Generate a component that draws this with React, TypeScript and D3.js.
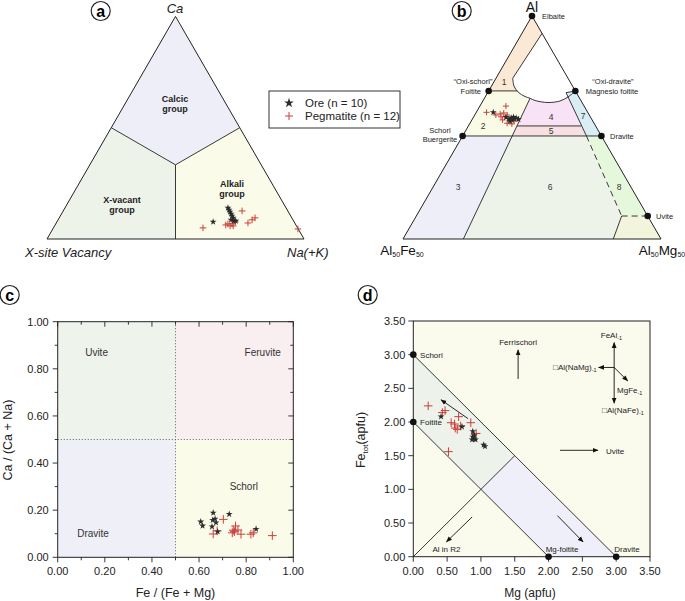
import React from 'react';
import * as d3 from 'd3';

// ---------- Panel a: X-site ternary, points as [Ca, Na(+K)] fractions ----------
const oreA = [[0.077,0.608],[0.14,0.634],[0.131,0.643],[0.122,0.651],[0.113,0.66],[0.104,0.668],[0.095,0.677],[0.086,0.673],[0.081,0.687],[0.081,0.694]];
const pegA = [[0.05,0.582],[0.126,0.696],[0.068,0.67],[0.059,0.683],[0.068,0.686],[0.077,0.694],[0.059,0.695],[0.072,0.746],[0.086,0.755],[0.095,0.762],[0.045,0.954],[0.063,0.664]];
const fieldCalcic = [[1,0],[0.5,0.5],[1/3,1/3],[0.5,0]];
const fieldVacant = [[0,0],[0.5,0],[1/3,1/3],[0,0.5]];
const fieldAlkali = [[0,1],[0,0.5],[1/3,1/3],[0.5,0.5]];

// ---------- Panel b: Al-Fe-Mg ternary, points as [Al, Mg] fractions ----------
const oreB = [[0.568,0.066],[0.546,0.126],[0.546,0.155],[0.538,0.162],[0.537,0.179],[0.543,0.148],[0.534,0.155],[0.529,0.15],[0.543,0.167],[0.538,0.142]];
const pegB = [[0.568,0.04],[0.596,0.101],[0.561,0.096],[0.548,0.106],[0.534,0.119],[0.519,0.144],[0.529,0.152],[0.556,0.126],[0.53,0.166],[0.556,0.082],[0.565,0.108],[0.516,0.164]];
const arcB = [[0.7206,0.0649],[0.6861,0.0872],[0.6592,0.1161],[0.639,0.1534],[0.631,0.177],[0.6211,0.2011],[0.6121,0.256],[0.6188,0.2991],[0.637,0.321],[0.6614,0.336]];
const field1 = [[1,0],[0.922,0.078],[0.7206,0.0649],[0.6861,0.0872],[0.664,0.111],[0.664,0]];
const field2 = [[0.664,0],[0.664,0.111],[0.6592,0.1161],[0.639,0.1534],[0.631,0.177],[0.462,0.192],[0.462,0]];
const field3 = [[0.462,0],[0.462,0.192],[0,0.234],[0,0]];
const field4 = [[0.631,0.177],[0.6211,0.2011],[0.6121,0.256],[0.6188,0.2991],[0.637,0.321],[0.507,0.437],[0.507,0.188]];
const field5 = [[0.507,0.188],[0.507,0.437],[0.462,0.48],[0.462,0.192]];
const field6 = [[0.462,0.192],[0.462,0.48],[0.103,0.796],[0,0.815],[0,0.234]];
const field7 = [[0.656,0.304],[0.664,0.336],[0.462,0.538],[0.462,0.48]];
const field8 = [[0.462,0.48],[0.462,0.538],[0.103,0.897],[0.103,0.796]];
const field9 = [[0.103,0.796],[0.103,0.897],[0,1],[0,0.815]];
const endMembersB = [[1,0],[0.664,0],[0.664,0.336],[0.462,0],[0.462,0.538],[0.103,0.897]];

// ---------- Panel c: Fe/(Fe+Mg) vs Ca/(Ca+Na) ----------
const oreC = [[0.607,0.151],[0.615,0.134],[0.66,0.189],[0.658,0.158],[0.668,0.163],[0.672,0.147],[0.655,0.13],[0.679,0.109],[0.728,0.183],[0.842,0.12]];
const pegC = [[0.703,0.161],[0.755,0.133],[0.75,0.109],[0.741,0.104],[0.778,0.098],[0.82,0.098],[0.83,0.104],[0.911,0.092],[0.66,0.099],[0.677,0.112],[0.765,0.116],[0.745,0.115]];
const ticksC = [0,0.2,0.4,0.6,0.8,1.0];

// ---------- Panel d: Mg vs Fe(tot) apfu ----------
const oreD = [[0.41,2.08],[0.72,1.93],[0.88,1.86],[0.88,1.78],[0.9,1.75],[0.87,1.74],[0.92,1.74],[0.9,1.8],[1.04,1.66],[1.06,1.64]];
const pegD = [[0.22,2.24],[0.43,2.14],[0.47,2.17],[0.67,2.08],[0.56,1.99],[0.61,1.97],[0.65,1.89],[0.7,1.94],[0.85,1.99],[0.93,1.83],[0.52,1.56],[0.62,1.91]];
const ticksD = [0,0.5,1,1.5,2,2.5,3,3.5];
const endMembersD = [[0,3],[0,2],[2,0],[3,0]];
const arrowsD = [[1.55,2.64,1.55,3.07],[2.97,2.81,2.97,3.18],[2.97,2.81,2.97,2.28],[2.97,2.81,2.74,2.81],[2.97,2.81,3.17,2.61],[2.17,1.58,2.73,1.58],[0.81,2.05,0.41,2.33],[0.87,0.59,0.49,0.22],[2.13,0.61,2.51,0.22]];

const FONT = "'Liberation Sans', Arial, Helvetica, sans-serif";
const RED = '#c9403a';
const STAR = '#2b2b2b';

const makeTern = (x0: number, W: number, yb: number, H: number) => {
  const xs = d3.scaleLinear().domain([0, 1]).range([x0, x0 + W]);
  const ys = d3.scaleLinear().domain([0, 1]).range([yb, yb - H]);
  return (a: number, b: number): [number, number] => [xs(b + a / 2), ys(a)];
};
const tA = makeTern(47, 257, 239, 222.6);
const tB = makeTern(403, 258, 239, 223);

const starPath = d3.symbol().type(d3.symbolStar).size(15)()!;
const Star = ({ x, y }: { x: number; y: number }) => <path d={starPath} transform={`translate(${x},${y})`} fill={STAR} />;
const Plus = ({ x, y, s = 3.6 }: { x: number; y: number; s?: number }) => (
  <g stroke={RED} strokeWidth={1}>
    <line x1={x - s} x2={x + s} y1={y} y2={y} />
    <line x1={x} x2={x} y1={y - s} y2={y + s} />
  </g>
);
const Circled = ({ x, y, t }: { x: number; y: number; t: string }) => (
  <g>
    <circle cx={x} cy={y} r={9.5} fill="white" stroke="#222" strokeWidth={1.2} />
    <text x={x} y={y + 5.5} textAnchor="middle" fontSize={16} fontWeight="bold" fontFamily={FONT}>{t}</text>
  </g>
);

const polyStr = (pts: number[][], f: (a: number, b: number) => [number, number]) =>
  pts.map(p => f(p[0], p[1]).join(',')).join(' ');

export default function App() {
  // panel a
  const triA = polyStr([[0,0],[0,1],[1,0]], tA);
  const cen = tA(1/3, 1/3);
  // panel b
  const triB = polyStr([[0,0],[0,1],[1,0]], tB);
  const arcLine = d3.line().curve(d3.curveCatmullRom)(arcB.map(p => tB(p[0], p[1])))!;
  const segB = (p: number[], q: number[], dash?: string) => {
    const a = tB(p[0], p[1]); const b = tB(q[0], q[1]);
    return <line x1={a[0]} y1={a[1]} x2={b[0]} y2={b[1]} stroke="#222" strokeWidth={0.9} strokeDasharray={dash} />;
  };
  // panel c
  const xc = d3.scaleLinear().domain([0, 1]).range([57.7, 293.3]);
  const yc = d3.scaleLinear().domain([0, 1]).range([557.3, 321.7]);
  const minorC = d3.range(0, 1.0001, 0.1);
  // panel d
  const xd = d3.scaleLinear().domain([0, 3.5]).range([413.3, 650]);
  const yd = d3.scaleLinear().domain([0, 3.5]).range([556.7, 321]);
  const pd = (pts: number[][]) => pts.map(p => `${xd(p[0])},${yd(p[1])}`).join(' ');

  const small = { fontFamily: FONT, fontSize: 7.5, fill: '#222' } as const;

  return (
    <svg width={685} height={601} style={{ position: 'absolute', left: 0, top: 0, background: 'white' }} fontFamily={FONT}>
      <defs>
        <marker id="ah" viewBox="0 0 10 10" refX="9" refY="5" markerWidth="6" markerHeight="6" orient="auto-start-reverse" markerUnits="userSpaceOnUse">
          <path d="M0,1 L10,5 L0,9 z" fill="#111" />
        </marker>
      </defs>

      {/* ================= Panel a ================= */}
      <polygon points={polyStr(fieldCalcic, tA)} fill="#eeeef8" />
      <polygon points={polyStr(fieldVacant, tA)} fill="#eef3ea" />
      <polygon points={polyStr(fieldAlkali, tA)} fill="#fafbe8" />
      {[[0.5,0],[0.5,0.5],[0,0.5]].map((p, i) => {
        const q = tA(p[0], p[1]);
        return <line key={i} x1={cen[0]} y1={cen[1]} x2={q[0]} y2={q[1]} stroke="#222" strokeWidth={0.9} />;
      })}
      <polygon points={triA} fill="none" stroke="#222" strokeWidth={1} />
      <g fontSize={9} fontWeight="bold" textAnchor="middle" fill="#222">
        <text x={175} y={102}>Calcic</text><text x={175} y={112}>group</text>
        <text x={122} y={203}>X-vacant</text><text x={122} y={213}>group</text>
        <text x={232} y={187}>Alkali</text><text x={232} y={197}>group</text>
      </g>
      <g fontSize={13} fontStyle="italic" fill="#222">
        <text x={175} y={13} textAnchor="middle">Ca</text>
        <text x={25} y={257}>X-site Vacancy</text>
        <text x={287} y={257}>Na(+K)</text>
      </g>
      {pegA.map((p, i) => { const q = tA(p[0], p[1]); return <Plus key={i} x={q[0]} y={q[1]} s={3.3} />; })}
      {oreA.map((p, i) => { const q = tA(p[0], p[1]); return <Star key={i} x={q[0]} y={q[1]} />; })}
      <Circled x={100.7} y={11} t="a" />

      {/* legend */}
      <rect x={269} y={91} width={131} height={37} fill="white" stroke="#333" strokeWidth={1} />
      <path d={d3.symbol().type(d3.symbolStar).size(30)()!} transform="translate(289,103)" fill={STAR} />
      <Plus x={289} y={116} s={4} />
      <g fontSize={11.5} fill="#222">
        <text x={305} y={107}>Ore (n = 10)</text>
        <text x={305} y={120}>Pegmatite (n = 12)</text>
      </g>

      {/* ================= Panel b ================= */}
      <polygon points={polyStr(field1, tB)} fill="#fbe8d5" />
      <polygon points={polyStr(field2, tB)} fill="#fafbe6" />
      <polygon points={polyStr(field3, tB)} fill="#eeeef8" />
      <polygon points={polyStr(field4, tB)} fill="#f8e2f6" />
      <polygon points={polyStr(field5, tB)} fill="#f6e0e2" />
      <polygon points={polyStr(field6, tB)} fill="#eef3ea" />
      <polygon points={polyStr(field7, tB)} fill="#d9edf4" />
      <polygon points={polyStr(field8, tB)} fill="#e6f8dc" />
      <polygon points={polyStr(field9, tB)} fill="#f2f4dc" />
      <path d={arcLine} fill="none" stroke="#222" strokeWidth={0.9} />
      {segB([0.922,0.078],[0.7206,0.0649])}
      {segB([0.664,0],[0.664,0.111])}
      {segB([0.631,0.177],[0,0.234])}
      {segB([0.507,0.188],[0.507,0.437])}
      {segB([0.462,0],[0.462,0.538])}
      {segB([0.656,0.304],[0.462,0.48])}
      {segB([0.656,0.304],[0.664,0.336])}
      {segB([0.462,0.48],[0.103,0.796],'6,4')}
      {segB([0.103,0.796],[0.103,0.897],'6,4')}
      {segB([0.103,0.796],[0,0.815])}
      <polygon points={triB} fill="none" stroke="#222" strokeWidth={1} />
      {endMembersB.map((p, i) => { const q = tB(p[0], p[1]); return <circle key={i} cx={q[0]} cy={q[1]} r={3.3} fill="#111" />; })}
      <g {...small}>
        <text x={542} y={19}>Elbaite</text>
        <text x={473} y={84} textAnchor="middle">“Oxi-schorl”</text>
        <text x={481} y={94} textAnchor="end">Foitite</text>
        <text x={613} y={84} textAnchor="middle">“Oxi-dravite”</text>
        <text x={612} y={94} textAnchor="middle">Magnesio foitite</text>
        <text x={440} y={133} textAnchor="middle">Schorl</text>
        <text x={440} y={142} textAnchor="middle">Buergerite</text>
        <text x={610} y={139}>Dravite</text>
        <text x={656} y={219}>Uvite</text>
      </g>
      <g fontSize={8.5} fill="#333" textAnchor="middle">
        <text x={504} y={85}>1</text>
        <text x={483} y={129}>2</text>
        <text x={458} y={190}>3</text>
        <text x={551} y={120}>4</text>
        <text x={551} y={134}>5</text>
        <text x={550} y={190}>6</text>
        <text x={583} y={119}>7</text>
        <text x={619} y={190}>8</text>
      </g>
      <text x={532} y={11.5} textAnchor="middle" fontSize={14} fill="#111">Al</text>
      <text x={402} y={255} textAnchor="middle" fontSize={13.5} fill="#111">Al<tspan fontSize={7} dy={2}>50</tspan><tspan dy={-2}>Fe</tspan><tspan fontSize={7} dy={2}>50</tspan></text>
      <text x={662} y={255} textAnchor="middle" fontSize={13.5} fill="#111">Al<tspan fontSize={7} dy={2}>50</tspan><tspan dy={-2}>Mg</tspan><tspan fontSize={7} dy={2}>50</tspan></text>
      {pegB.map((p, i) => { const q = tB(p[0], p[1]); return <Plus key={i} x={q[0]} y={q[1]} s={3} />; })}
      {oreB.map((p, i) => { const q = tB(p[0], p[1]); return <Star key={i} x={q[0]} y={q[1]} />; })}
      <Circled x={461.7} y={11} t="b" />

      {/* ================= Panel c ================= */}
      <rect x={xc(0)} y={yc(1)} width={xc(0.5) - xc(0)} height={yc(0.5) - yc(1)} fill="#eef4ec" />
      <rect x={xc(0.5)} y={yc(1)} width={xc(1) - xc(0.5)} height={yc(0.5) - yc(1)} fill="#f9eef0" />
      <rect x={xc(0)} y={yc(0.5)} width={xc(0.5) - xc(0)} height={yc(0) - yc(0.5)} fill="#eff0f7" />
      <rect x={xc(0.5)} y={yc(0.5)} width={xc(1) - xc(0.5)} height={yc(0) - yc(0.5)} fill="#fbfbea" />
      <line x1={xc(0.5)} x2={xc(0.5)} y1={yc(0)} y2={yc(1)} stroke="#555" strokeWidth={0.8} strokeDasharray="1.2,1.8" />
      <line x1={xc(0)} x2={xc(1)} y1={yc(0.5)} y2={yc(0.5)} stroke="#555" strokeWidth={0.8} strokeDasharray="1.2,1.8" />
      <rect x={xc(0)} y={yc(1)} width={xc(1) - xc(0)} height={yc(0) - yc(1)} fill="none" stroke="#222" strokeWidth={1} />
      {minorC.map((v, i) => {
        const L = i % 2 === 0 ? 5 : 3;
        return (
          <g key={i} stroke="#222" strokeWidth={0.9}>
            <line x1={xc(v)} x2={xc(v)} y1={yc(0)} y2={yc(0) + L} />
            <line x1={xc(v)} x2={xc(v)} y1={yc(1)} y2={yc(1) + L} />
            <line x1={xc(0)} x2={xc(0) - L} y1={yc(v)} y2={yc(v)} />
            <line x1={xc(1)} x2={xc(1) - L} y1={yc(v)} y2={yc(v)} />
          </g>
        );
      })}
      <g fontSize={11} fill="#222">
        {ticksC.map((v, i) => <text key={'x' + i} x={xc(v)} y={yc(0) + 18} textAnchor="middle">{d3.format('.2f')(v)}</text>)}
        {ticksC.map((v, i) => <text key={'y' + i} x={xc(0) - 9} y={yc(v) + 4} textAnchor="end">{d3.format('.2f')(v)}</text>)}
      </g>
      <g fontSize={10} fill="#333" textAnchor="middle">
        <text x={xc(0.165)} y={yc(0.87) + 3.5}>Uvite</text>
        <text x={xc(0.87)} y={yc(0.87) + 3.5}>Feruvite</text>
        <text x={xc(0.79)} y={yc(0.3) + 3.5}>Schorl</text>
        <text x={xc(0.15)} y={yc(0.1) + 3.5}>Dravite</text>
      </g>
      <text x={175.5} y={597} textAnchor="middle" fontSize={12.5} fill="#222">Fe / (Fe + Mg)</text>
      <text transform={`translate(12,440) rotate(-90)`} textAnchor="middle" fontSize={12.5} fill="#222">Ca / (Ca + Na)</text>
      {pegC.map((p, i) => <Plus key={i} x={xc(p[0])} y={yc(p[1])} s={4.3} />)}
      {oreC.map((p, i) => <Star key={i} x={xc(p[0])} y={yc(p[1])} />)}
      <Circled x={9.7} y={295} t="c" />

      {/* ================= Panel d ================= */}
      <rect x={xd(0)} y={yd(3.5)} width={xd(3.5) - xd(0)} height={yd(0) - yd(3.5)} fill="#fbfbed" />
      <polygon points={pd([[0,3],[1.5,1.5],[1,1],[0,2]])} fill="#edf3ea" />
      <polygon points={pd([[1.5,1.5],[3,0],[2,0],[1,1]])} fill="#eeeff8" />
      <g stroke="#222" strokeWidth={0.9}>
        <line x1={xd(0)} y1={yd(3)} x2={xd(3)} y2={yd(0)} />
        <line x1={xd(0)} y1={yd(2)} x2={xd(2)} y2={yd(0)} />
        <line x1={xd(0)} y1={yd(0)} x2={xd(1.5)} y2={yd(1.5)} />
      </g>
      <rect x={xd(0)} y={yd(3.5)} width={xd(3.5) - xd(0)} height={yd(0) - yd(3.5)} fill="none" stroke="#222" strokeWidth={1} />
      {ticksD.map((v, i) => (
        <g key={i} stroke="#222" strokeWidth={0.9}>
          <line x1={xd(v)} x2={xd(v)} y1={yd(0)} y2={yd(0) + 5} />
          <line x1={xd(0)} x2={xd(0) - 5} y1={yd(v)} y2={yd(v)} />
        </g>
      ))}
      <g fontSize={11} fill="#222">
        {ticksD.map((v, i) => <text key={'x' + i} x={xd(v)} y={yd(0) + 18} textAnchor="middle">{d3.format('.2f')(v)}</text>)}
        {ticksD.map((v, i) => <text key={'y' + i} x={xd(0) - 8} y={yd(v) + 4} textAnchor="end">{d3.format('.2f')(v)}</text>)}
      </g>
      {arrowsD.map((a, i) => (
        <line key={i} x1={xd(a[0])} y1={yd(a[1])} x2={xd(a[2])} y2={yd(a[3])} stroke="#111" strokeWidth={0.9} markerEnd="url(#ah)" />
      ))}
      {endMembersD.map((p, i) => <circle key={i} cx={xd(p[0])} cy={yd(p[1])} r={3.3} fill="#111" />)}
      <g fontSize={8} fill="#222">
        <text x={xd(0.1)} y={yd(3) + 3}>Schorl</text>
        <text x={xd(0.1)} y={yd(2) + 3}>Foitite</text>
        <text x={xd(2.2)} y={yd(0.12) + 3} textAnchor="middle">Mg-foitite</text>
        <text x={xd(3.16)} y={yd(0.12) + 3} textAnchor="middle">Dravite</text>
        <text x={xd(0.49)} y={yd(0.12) + 3} textAnchor="middle">Al in R2</text>
        <text x={xd(1.55)} y={yd(3.19) + 3} textAnchor="middle">Ferrischorl</text>
        <text x={xd(2.85)} y={yd(1.57) + 3}>Uvite</text>
        <text x={xd(2.93)} y={yd(3.29) + 3} textAnchor="middle">FeAl<tspan fontSize={5.5} dy={2}>-1</tspan></text>
        <text x={xd(2.71)} y={yd(2.81) + 3} textAnchor="end">□Al(NaMg)<tspan fontSize={5.5} dy={2}>-1</tspan></text>
        <text x={xd(3.2)} y={yd(2.475) + 3} textAnchor="middle">MgFe<tspan fontSize={5.5} dy={2}>-1</tspan></text>
        <text x={xd(3.1)} y={yd(2.18) + 3} textAnchor="middle">□Al(NaFe)<tspan fontSize={5.5} dy={2}>-1</tspan></text>
      </g>
      <text x={530} y={597} textAnchor="middle" fontSize={12} fill="#222">Mg (apfu)</text>
      <text transform={`translate(365,440) rotate(-90)`} textAnchor="middle" fontSize={12.5} fill="#222">Fe<tspan fontSize={8} dy={3}>tot</tspan><tspan dy={-3}>(apfu)</tspan></text>
      {pegD.map((p, i) => <Plus key={i} x={xd(p[0])} y={yd(p[1])} s={4.3} />)}
      {oreD.map((p, i) => <Star key={i} x={xd(p[0])} y={yd(p[1])} />)}
      <Circled x={367.7} y={295} t="d" />
    </svg>
  );
}
